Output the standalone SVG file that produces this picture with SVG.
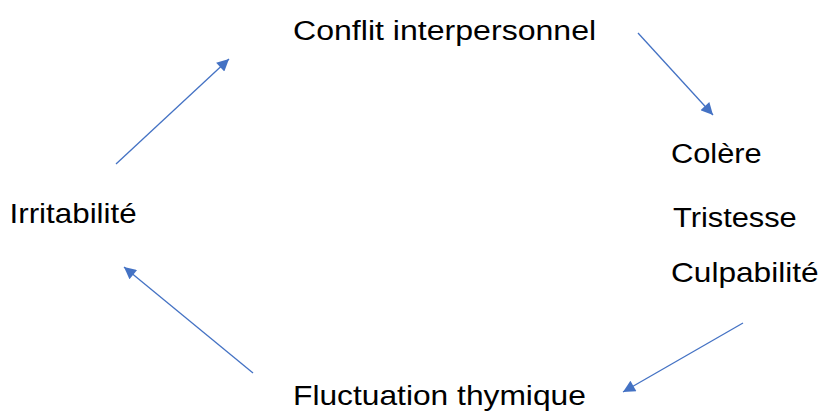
<svg xmlns="http://www.w3.org/2000/svg" width="822" height="414" viewBox="0 0 822 414">
<style>
.lbl{font-family:"Liberation Sans",Arial,sans-serif;font-size:28px;fill:#000}
.conn{stroke:#4472C4;stroke-width:1.3;fill:none;marker-end:url(#ah)}
</style>
<defs>
<marker id="ah" viewBox="0 0 10 10" refX="10" refY="5" markerWidth="15" markerHeight="12" markerUnits="userSpaceOnUse" orient="auto">
<path d="M0,0 L10,5 L0,10 z" fill="#4472C4"/>
</marker>
</defs>
<rect width="822" height="414" fill="#fff"/>
<g id="conflit"><text class="lbl" transform="translate(293,39.5) scale(1.146,1)">Conflit interpersonnel</text></g>
<g id="emotions">
<text class="lbl" transform="translate(671,163) scale(1.10,1)">Colère</text>
<text class="lbl" transform="translate(673,227) scale(1.10,1)">Tristesse</text>
<text class="lbl" transform="translate(671,282) scale(1.13,1)">Culpabilité</text>
</g>
<g id="irritabilite"><text class="lbl" transform="translate(9.5,223) scale(1.12,1)">Irritabilité</text></g>
<g id="fluctuation"><text class="lbl" transform="translate(293,405) scale(1.134,1)">Fluctuation thymique</text></g>
<g id="connectors">
<line class="conn" x1="638" y1="33" x2="713" y2="115"/>
<line class="conn" x1="743" y1="323" x2="623" y2="392"/>
<line class="conn" x1="253" y1="373" x2="124" y2="267"/>
<line class="conn" x1="116" y1="164" x2="229" y2="59"/>
</g>
</svg>
